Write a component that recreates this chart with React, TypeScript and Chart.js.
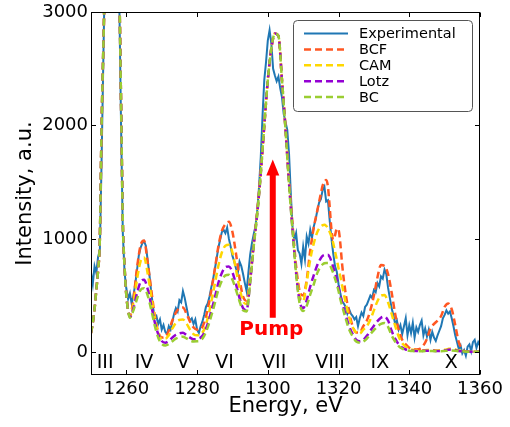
import React, { useEffect, useRef } from "react";
import { Chart, registerables } from "chart.js";

Chart.register(...registerables);

const FONT = "'DejaVu Sans', 'Liberation Sans', sans-serif";

// Experimental spectrum sampled every 0.5 eV from 1250 to 1360 eV
const expEnergy: number[] = Array.from({ length: 221 }, (_, i) => 1250 + i * 0.5);
const experimental: number[] = [
  700, 600, 760, 700, 840, 900, 1700, 2600, 3500, 4400,
  5000, 5100, 5000, 4600, 4000, 3500, 3100, 2000, 1050, 700,
  560, 470, 520, 430, 500, 600, 720, 850, 920, 960,
  980, 940, 820, 690, 540, 410, 300, 320, 250, 290,
  200, 240, 180, 160, 230, 200, 270, 340, 390, 360,
  460, 440, 540, 480, 400, 320, 280, 300, 250, 290,
  200, 170, 230, 270, 330, 400, 430, 490, 570, 640,
  730, 820, 920, 990, 1060, 1080, 1050, 1100, 1000, 930,
  850, 800, 740, 700, 800, 760, 690, 610, 540, 700,
  860, 960, 1040, 1110, 1250, 1450, 1720, 2080, 2400, 2560,
  2750, 2840, 2720, 2500, 2440, 2390, 2430, 2330, 2250, 2100,
  2030, 1960, 1750, 1400, 1100, 990, 1050, 900, 870, 780,
  930, 820, 1020, 960, 1080, 1010, 1110, 1170, 1250, 1320,
  1350, 1430, 1460, 1330, 1340, 1160, 1000, 870, 760, 710,
  600, 520, 450, 430, 400, 340, 380, 340, 320, 290,
  310, 230, 300, 350, 320, 400, 420, 460, 500, 480,
  550, 530, 610, 580, 670, 650, 730, 690, 570, 480,
  390, 330, 250, 280, 200, 240, 160, 230, 300, 150,
  240, 170, 260, 130, 220, 180, 240, 280, 150, 210,
  140, 200, 110, 180, 130, 100, 150, 190, 230, 300,
  330, 370, 340, 360, 300, 230, 150, 90, 30, 60,
  -10, 20, -30, 50, 70, 10, 90, 110, 40, 90,
  60,
];

// Energy grid for the fitted curves
const fitEnergy: number[] = [
  1250, 1250.5, 1251, 1251.5, 1252, 1252.5, 1253, 1253.5, 1254, 1254.5,
  1255, 1255.5, 1256, 1256.5, 1257, 1257.5, 1258, 1258.5, 1259, 1259.5,
  1260, 1260.5, 1261,
  1262, 1263, 1264, 1265, 1266, 1267, 1268, 1269, 1270, 1271,
  1272, 1273, 1274, 1275, 1276, 1277, 1278, 1279, 1280, 1281,
  1282, 1283, 1284, 1285, 1286, 1287, 1288, 1289, 1290, 1291,
  1292, 1293, 1294, 1295, 1296, 1297, 1298, 1299, 1300, 1301,
  1302, 1303, 1304, 1305, 1306, 1307, 1308, 1309, 1310, 1311,
  1312, 1313, 1314, 1315,
  1315.5, 1316, 1316.5, 1317, 1317.5, 1318, 1318.5, 1319, 1319.5, 1320,
  1320.5, 1321,
  1322, 1323, 1324, 1325, 1326, 1327, 1328, 1329, 1330, 1331,
  1332, 1333, 1334, 1335, 1336, 1337, 1338, 1339, 1340, 1341,
  1342, 1343, 1344, 1345, 1346, 1347, 1348, 1349, 1350, 1351,
  1352, 1353, 1354, 1355, 1356, 1357, 1358, 1359, 1360,
];

const bcf: number[] = [
  170, 260, 380, 550, 720, 1000, 2000, 2700, 3400, 4200,
  4900, 5200, 5100, 4700, 4100, 3600, 3200, 2200, 1150, 750,
  500, 370, 320,
  470, 740, 940, 985, 800, 560, 330, 180, 130, 135,
  190, 280, 350, 390, 395, 340, 270, 220, 200, 205,
  260, 380, 540, 730, 930, 1070, 1130, 1150, 1060, 870,
  650, 490, 455, 660, 960, 1240, 1590, 2000, 2400, 2680,
  2810, 2790, 2400, 1980, 1510, 1120, 760, 540, 500, 640,
  900, 1100, 1250, 1400,
  1470, 1500, 1520, 1460, 1280, 1080, 990, 1030, 1090, 1080,
  960, 780,
  520, 350, 230, 175, 175, 230, 280, 370, 500, 660,
  770, 760, 690, 530, 340, 200, 110, 70, 40, 28,
  25, 30, 60, 120, 210, 250, 280, 320, 400, 430,
  380, 240, 90, 25, 8, 6, 5, 5, 5,
];

const cam: number[] = [
  170, 260, 380, 550, 720, 1000, 2000, 2700, 3400, 4200,
  4900, 5200, 5100, 4700, 4100, 3600, 3200, 2200, 1150, 750,
  500, 370, 315,
  430, 640, 800, 835, 700, 500, 310, 175, 120, 120,
  150, 210, 260, 285, 290, 255, 200, 160, 150, 160,
  200, 300, 440, 600, 760, 880, 940, 948, 880, 730,
  570, 450, 425, 640, 950, 1230, 1580, 2000, 2400, 2680,
  2810, 2790, 2400, 1975, 1500, 1100, 730, 500, 450, 620,
  820, 960, 1060, 1110,
  1120, 1124, 1115, 1095, 1060, 1020, 960, 890, 820, 740,
  670, 590,
  440, 310, 220, 175, 165, 200, 230, 290, 370, 450,
  500, 505, 440, 340, 235, 140, 80, 50, 30, 22,
  18, 17, 18, 20, 20, 18, 17, 18, 22, 30,
  35, 26, 16, 10, 7, 6, 5, 5, 5,
];

const lotz: number[] = [
  170, 260, 380, 550, 720, 1000, 2000, 2700, 3400, 4200,
  4900, 5200, 5100, 4700, 4100, 3600, 3200, 2200, 1150, 750,
  500, 370, 310,
  390, 520, 620, 640, 560, 420, 270, 160, 100, 85,
  100, 130, 155, 168, 172, 152, 130, 115, 118, 130,
  170, 250, 360, 480, 610, 700, 750, 757, 705, 600,
  480, 390, 370, 620, 940, 1220, 1575, 2000, 2400, 2680,
  2810, 2790, 2400, 1970, 1490, 1080, 700, 450, 390, 460,
  580, 680, 770, 830,
  850, 858, 860, 860, 840, 800, 750, 700, 640, 570,
  500, 440,
  330, 230, 160, 110, 97, 110, 145, 190, 235, 275,
  305, 315, 280, 190, 120, 72, 42, 25, 17, 13,
  12, 12, 13, 14, 14, 13, 12, 13, 17, 22,
  25, 18, 12, 8, 6, 5, 5, 5, 5,
];

const bc: number[] = [
  170, 260, 380, 550, 720, 1000, 2000, 2700, 3400, 4200,
  4900, 5200, 5100, 4700, 4100, 3600, 3200, 2200, 1150, 750,
  500, 365, 305,
  370, 470, 550, 565, 505, 380, 240, 130, 75, 60,
  72, 98, 120, 132, 138, 122, 105, 96, 97, 105,
  145, 220, 320, 430, 550, 630, 678, 684, 640, 550,
  450, 370, 360, 610, 930, 1215, 1570, 2000, 2400, 2680,
  2810, 2790, 2400, 1965, 1480, 1070, 690, 430, 365, 410,
  510, 600, 700, 760,
  775, 785, 787, 787, 770, 740, 700, 650, 600, 540,
  470, 410,
  300, 200, 140, 95, 85, 95, 120, 160, 195, 228,
  250, 258, 225, 150, 95, 55, 32, 20, 14, 11,
  10, 10, 10, 11, 11, 10, 10, 10, 12, 14,
  15, 13, 9, 7, 6, 5, 5, 5, 5,
];

const xTicks = [1260, 1280, 1300, 1320, 1340, 1360];
const yTicks = [0, 1000, 2000, 3000];

const peakLabels = ["III", "IV", "V", "VI", "VII", "VIII", "IX", "X"];
const peakLabelEnergy = [1254, 1265, 1276.1, 1287.8, 1301.8, 1317.6, 1331.7, 1351.9];
const peakLabelLevel = -135;

const pumpEnergy = 1301.4;
const pumpFrom = 305;
const pumpTo = 1700;
const pumpTextLevel = 155;

const seriesNames = ["Experimental", "BCF", "CAM", "Lotz", "BC"];
const seriesColors = ["#1f77b4", "#ff5722", "#ffd700", "#9400d3", "#9acd32"];
const DASH = [7, 4];

const toPoints = (xs: number[], ys: number[]) => xs.map((x, i) => ({ x, y: ys[i] }));

const overlayPlugin = {
  id: "overlay",
  afterDatasetsDraw(chart: any) {
    const { ctx, chartArea: a, scales } = chart;
    const x = scales.x;
    const y = scales.y;
    ctx.save();

    // Peak labels
    ctx.fillStyle = "#000";
    ctx.font = `19px ${FONT}`;
    ctx.textAlign = "center";
    ctx.textBaseline = "alphabetic";
    peakLabels.forEach((t, i) => {
      ctx.fillText(t, x.getPixelForValue(peakLabelEnergy[i]), y.getPixelForValue(peakLabelLevel));
    });

    // Pump arrow
    const xc = x.getPixelForValue(pumpEnergy);
    const yTop = y.getPixelForValue(pumpTo);
    const yBot = y.getPixelForValue(pumpFrom);
    const headLen = 16;
    const shaftW = 6;
    const headW = 13;
    ctx.fillStyle = "#ff0000";
    ctx.beginPath();
    ctx.moveTo(xc - shaftW / 2, yBot);
    ctx.lineTo(xc - shaftW / 2, yTop + headLen);
    ctx.lineTo(xc - headW / 2, yTop + headLen);
    ctx.lineTo(xc, yTop);
    ctx.lineTo(xc + headW / 2, yTop + headLen);
    ctx.lineTo(xc + shaftW / 2, yTop + headLen);
    ctx.lineTo(xc + shaftW / 2, yBot);
    ctx.closePath();
    ctx.fill();

    ctx.font = `bold 20px ${FONT}`;
    ctx.fillText("Pump", x.getPixelForValue(1301), y.getPixelForValue(pumpTextLevel));

    // Frame
    const l = Math.round(a.left) + 0.5;
    const r = Math.round(a.right) - 0.5;
    const t = Math.round(a.top) + 0.5;
    const b = Math.round(a.bottom) - 0.5;
    ctx.strokeStyle = "#000";
    ctx.lineWidth = 1;
    ctx.setLineDash([]);
    ctx.strokeRect(l, t, r - l, b - t);

    // Inward ticks on all sides
    const tl = 4.5;
    ctx.beginPath();
    xTicks.forEach((v) => {
      const px = Math.round(x.getPixelForValue(v)) + 0.5;
      ctx.moveTo(px, b);
      ctx.lineTo(px, b - tl);
      ctx.moveTo(px, t);
      ctx.lineTo(px, t + tl);
    });
    yTicks.forEach((v) => {
      const py = Math.round(y.getPixelForValue(v)) + 0.5;
      ctx.moveTo(l, py);
      ctx.lineTo(l + tl, py);
      ctx.moveTo(r, py);
      ctx.lineTo(r - tl, py);
    });
    ctx.stroke();
    ctx.restore();
  },
  afterDraw(chart: any) {
    const { ctx } = chart;
    ctx.save();
    // Legend box
    const bx = 293.5, by = 20.5, bw = 179, bh = 91, rad = 4;
    ctx.beginPath();
    ctx.moveTo(bx + rad, by);
    ctx.lineTo(bx + bw - rad, by);
    ctx.arcTo(bx + bw, by, bx + bw, by + rad, rad);
    ctx.lineTo(bx + bw, by + bh - rad);
    ctx.arcTo(bx + bw, by + bh, bx + bw - rad, by + bh, rad);
    ctx.lineTo(bx + rad, by + bh);
    ctx.arcTo(bx, by + bh, bx, by + bh - rad, rad);
    ctx.lineTo(bx, by + rad);
    ctx.arcTo(bx, by, bx + rad, by, rad);
    ctx.closePath();
    ctx.fillStyle = "rgba(255,255,255,0.9)";
    ctx.fill();
    ctx.strokeStyle = "#555";
    ctx.lineWidth = 1;
    ctx.stroke();

    ctx.font = `14.5px ${FONT}`;
    ctx.textAlign = "left";
    ctx.textBaseline = "middle";
    seriesNames.forEach((name, i) => {
      const yy = 33.5 + i * 15.9;
      ctx.beginPath();
      ctx.strokeStyle = seriesColors[i];
      ctx.lineWidth = i === 0 ? 2 : 2.5;
      ctx.setLineDash(i === 0 ? [] : DASH);
      ctx.moveTo(304, yy);
      ctx.lineTo(348, yy);
      ctx.stroke();
      ctx.setLineDash([]);
      ctx.fillStyle = "#000";
      ctx.fillText(name, 359, yy + 1);
    });
    ctx.restore();
  },
};

export default function App() {
  const canvasRef = useRef<HTMLCanvasElement | null>(null);

  useEffect(() => {
    if (!canvasRef.current) return;
    const fits = [bcf, cam, lotz, bc];
    const datasets: any[] = [
      {
        label: seriesNames[0],
        data: toPoints(expEnergy, experimental),
        borderColor: seriesColors[0],
        borderWidth: 2,
        tension: 0,
        pointRadius: 0,
        fill: false,
        order: 5,
      },
      ...fits.map((vals, i) => ({
        label: seriesNames[i + 1],
        data: toPoints(fitEnergy, vals),
        borderColor: seriesColors[i + 1],
        borderWidth: 2.5,
        borderDash: DASH,
        cubicInterpolationMode: "monotone",
        pointRadius: 0,
        fill: false,
        order: 4 - i,
      })),
    ];

    const chart = new Chart(canvasRef.current, {
      type: "line",
      data: { datasets },
      options: {
        animation: false,
        responsive: true,
        maintainAspectRatio: false,
        layout: { padding: { left: 0, right: 30, top: 12, bottom: 0 } },
        plugins: { legend: { display: false }, tooltip: { enabled: false } },
        elements: { point: { radius: 0 } },
        scales: {
          x: {
            type: "linear",
            min: 1250,
            max: 1360,
            afterBuildTicks: (s: any) => {
              s.ticks = xTicks.map((v) => ({ value: v }));
            },
            afterFit: (s: any) => {
              s.height = 52;
            },
            grid: { display: false, drawTicks: false },
            border: { display: false },
            ticks: {
              color: "#000",
              font: { size: 18, family: FONT, lineHeight: 1 },
              padding: 5,
              maxRotation: 0,
              autoSkip: false,
              callback: (v: any) => String(v),
            },
            title: {
              display: true,
              text: "Energy, eV",
              color: "#000",
              font: { size: 21, family: FONT },
              padding: { top: 0, bottom: 7.4 },
            },
          },
          y: {
            type: "linear",
            min: -200,
            max: 3000,
            afterBuildTicks: (s: any) => {
              s.ticks = yTicks.map((v) => ({ value: v }));
            },
            afterFit: (s: any) => {
              s.width = 91;
            },
            grid: { display: false, drawTicks: false },
            border: { display: false },
            ticks: {
              color: "#000",
              font: { size: 18, family: FONT, lineHeight: 1 },
              padding: 3,
              autoSkip: false,
              callback: (v: any) => String(v),
            },
            title: {
              display: true,
              text: "Intensity, a.u.",
              color: "#000",
              font: { size: 21, family: FONT },
              padding: { top: 12.8, bottom: 0 },
            },
          },
        },
      },
      plugins: [overlayPlugin],
    } as any);

    return () => chart.destroy();
  }, []);

  return (
    <div style={{ position: "fixed", left: 0, top: 0, width: 510, height: 427, background: "#fff" }}>
      <canvas ref={canvasRef} />
    </div>
  );
}
